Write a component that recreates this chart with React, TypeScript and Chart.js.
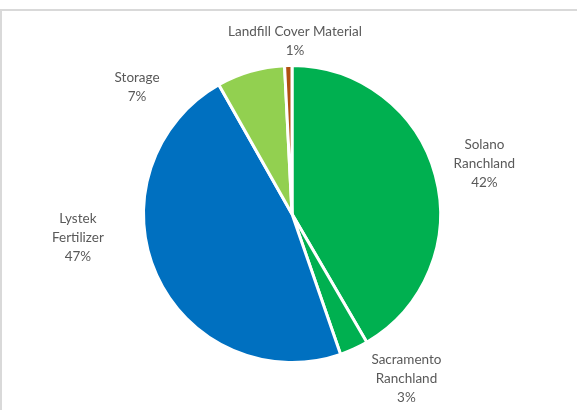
import React, { useEffect, useRef } from "react";
import { Chart, registerables } from "chart.js";

Chart.register(...registerables);

const categories: string[][] = [
  ["Solano", "Ranchland"],
  ["Sacramento", "Ranchland"],
  ["Lystek", "Fertilizer"],
  ["Storage"],
  ["Landfill Cover Material"],
];
const shares: number[] = [41.6, 3.1, 47.1, 7.4, 0.8];
const sliceColors: string[] = ["#00B050", "#00B050", "#0070C0", "#92D050", "#B0500F"];
// label placement: angle (deg, clockwise from 12 o'clock) and distance as multiple of radius
const labelAngles: number[] = [75.2, 145.2, 263.8, 309.4, 1.0];
const labelRadii: number[] = [1.34, 1.35, 1.45, 1.35, 1.165];

const labelPlugin = {
  id: "outsideLabels",
  afterDraw(chart: any) {
    const meta = chart.getDatasetMeta(0);
    const ctx = chart.ctx;
    const total = shares.reduce((a, b) => a + b, 0);
    ctx.save();
    ctx.font = "13.5px Lato";
    ctx.fillStyle = "#595959";
    ctx.textAlign = "center";
    ctx.textBaseline = "middle";
    const lh = 19;
    meta.data.forEach((arc: any, i: number) => {
      const { x, y, outerRadius } = arc.getProps(["x", "y", "outerRadius"], true);
      const a = (labelAngles[i] * Math.PI) / 180;
      const d = outerRadius * labelRadii[i];
      const cx = x + Math.sin(a) * d;
      const cy = y - Math.cos(a) * d;
      const lines = [...categories[i], Math.round((shares[i] / total) * 100) + "%"];
      const top = cy - ((lines.length - 1) * lh) / 2;
      lines.forEach((t, k) => ctx.fillText(t, cx, top + k * lh));
    });
    ctx.restore();
  },
};

export default function App() {
  const ref = useRef<HTMLCanvasElement>(null);
  useEffect(() => {
    document.body.style.margin = "0";
    const chart = new Chart(ref.current!, {
      type: "pie",
      data: {
        labels: categories.map((c) => c.join(" ")),
        datasets: [
          {
            data: shares,
            backgroundColor: sliceColors,
            borderColor: "#ffffff",
            borderWidth: 3,
          },
        ],
      },
      options: {
        animation: false,
        responsive: false,
        layout: { padding: { top: 64, bottom: 46, left: 142, right: 135 } },
        plugins: { legend: { display: false }, tooltip: { enabled: false } },
      },
      plugins: [labelPlugin],
    });
    return () => chart.destroy();
  }, []);
  return (
    <div style={{ position: "relative", width: 577, height: 410, overflow: "hidden", background: "#fff" }}>
      <div
        style={{
          position: "absolute",
          left: 0,
          top: 9,
          width: 620,
          height: 440,
          border: "2px solid #d9d9d9",
          boxSizing: "border-box",
        }}
      />
      <canvas ref={ref} width={577} height={410} style={{ position: "absolute", left: 0, top: 0 }} />
    </div>
  );
}
